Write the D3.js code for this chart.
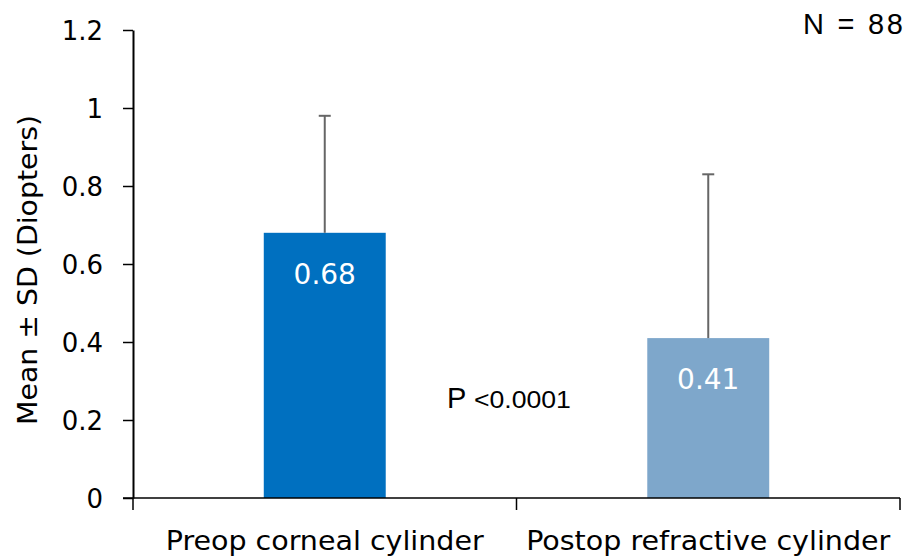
<!DOCTYPE html>
<html>
<head>
<meta charset="utf-8">
<script src="https://cdn.jsdelivr.net/npm/d3@7"></script>
<style>
  body { margin: 0; background: #fff; }
  svg { display: block; }
</style>
</head>
<body>
<div id="chart"></div>
<script>
// DATA
const categories = ["Preop corneal cylinder", "Postop refractive cylinder"]
const means = [0.68, 0.41]
const sds = [0.30, 0.42]
const barColors = ["#0070C0", "#7EA7CB"]
const yTicks = [0, 0.2, 0.4, 0.6, 0.8, 1, 1.2]

// DIMENSIONS
const dimensions = {
  width: 907,
  height: 558,
  margin: { top: 30, right: 7, bottom: 60, left: 133 },
}
dimensions.boundedWidth = dimensions.width - dimensions.margin.left - dimensions.margin.right
dimensions.boundedHeight = 498 - dimensions.margin.top

const svg = d3.select("#chart")
  .append("svg")
  .attr("width", dimensions.width)
  .attr("height", dimensions.height)

const bounds = svg.append("g")
  .attr("transform", `translate(${dimensions.margin.left},${dimensions.margin.top})`)

// SCALES
const xScale = d3.scaleBand()
  .domain(categories)
  .range([0, dimensions.boundedWidth])
  .padding(0)

const yScale = d3.scaleLinear()
  .domain([0, 1.2])
  .range([dimensions.boundedHeight, 0])

const barWidth = xScale.bandwidth() * 0.318

// BARS
bounds.append("g")
  .selectAll("rect")
  .data(categories)
  .join("rect")
    .attr("x", d => xScale(d) + (xScale.bandwidth() - barWidth) / 2)
    .attr("y", (d, i) => yScale(means[i]))
    .attr("width", barWidth)
    .attr("height", (d, i) => yScale(0) - yScale(means[i]))
    .attr("fill", (d, i) => barColors[i])

// ERROR BARS (upper only)
const errs = bounds.append("g")
  .selectAll("g")
  .data(categories)
  .join("g")
    .attr("stroke", "#666")
    .attr("stroke-width", 2)
errs.append("line")
  .attr("x1", d => xScale(d) + xScale.bandwidth() / 2)
  .attr("x2", d => xScale(d) + xScale.bandwidth() / 2)
  .attr("y1", (d, i) => yScale(means[i]))
  .attr("y2", (d, i) => yScale(means[i] + sds[i]))
errs.append("line")
  .attr("x1", d => xScale(d) + xScale.bandwidth() / 2 - 6)
  .attr("x2", d => xScale(d) + xScale.bandwidth() / 2 + 6)
  .attr("y1", (d, i) => yScale(means[i] + sds[i]))
  .attr("y2", (d, i) => yScale(means[i] + sds[i]))

// VALUE LABELS
bounds.append("g")
  .selectAll("text")
  .data(categories)
  .join("text")
    .attr("x", d => xScale(d) + xScale.bandwidth() / 2)
    .attr("y", (d, i) => yScale(means[i]) + 51)
    .attr("text-anchor", "middle")
    .attr("fill", "#fff")
    .style("font-family", "DejaVu Sans")
    .style("font-size", "28px")
    .text((d, i) => means[i])

// Y AXIS
const yAxis = bounds.append("g")
  .call(d3.axisLeft(yScale).tickValues(yTicks).tickFormat(d3.format("~g")).tickSize(10).tickSizeOuter(0).tickPadding(20))
yAxis.select(".domain").attr("stroke", "#000").attr("stroke-width", 2)
yAxis.selectAll(".tick line").attr("stroke", "#000").attr("stroke-width", 1.5)
yAxis.selectAll(".tick text")
  .attr("dy", "0.36em")
  .style("font-family", "DejaVu Sans")
  .style("font-size", "26px")
  .attr("fill", "#000")

// X AXIS
const xAxis = bounds.append("g")
  .attr("transform", `translate(0,${dimensions.boundedHeight})`)
xAxis.append("line")
  .attr("x1", -10)
  .attr("x2", dimensions.boundedWidth)
  .attr("stroke", "#000")
  .attr("stroke-width", 1.5)
const edges = [...categories.map(d => xScale(d)), xScale.range()[1]]
xAxis.selectAll(".xtick")
  .data(edges)
  .join("line")
    .attr("class", "xtick")
    .attr("x1", d => d)
    .attr("x2", d => d)
    .attr("y1", 0)
    .attr("y2", 12)
    .attr("stroke", "#000")
    .attr("stroke-width", 1.5)
const xLabels = xAxis.selectAll(".xlabel")
  .data(categories)
  .join("text")
    .attr("class", "xlabel")
    .attr("x", d => xScale(d) + xScale.bandwidth() / 2)
    .attr("y", 52)
    .attr("text-anchor", "middle")
    .style("font-family", "DejaVu Sans Condensed, DejaVu Sans")
    .style("font-size", "27px")
    .text(d => d)
// stretch labels horizontally by a common factor (first label ~318px wide)
const stretch = 318 / xLabels.node().getComputedTextLength()
xLabels.each(function () {
  d3.select(this)
    .attr("textLength", this.getComputedTextLength() * stretch)
    .attr("lengthAdjust", "spacingAndGlyphs")
})

// Y AXIS LABEL
svg.append("text")
  .attr("transform", `translate(37,270) rotate(-90)`)
  .attr("text-anchor", "middle")
  .attr("textLength", 310)
  .attr("lengthAdjust", "spacingAndGlyphs")
  .style("font-family", "DejaVu Sans")
  .style("font-size", "26px")
  .text("Mean ± SD (Diopters)")

// ANNOTATIONS
const pText = svg.append("text")
  .attr("x", 447)
  .attr("y", 408)
  .style("font-family", "Liberation Sans, Arial")
pText.append("tspan").style("font-size", "29px").text("P ")
pText.append("tspan")
  .style("font-size", "24px")
  .attr("textLength", 97)
  .attr("lengthAdjust", "spacingAndGlyphs")
  .text("<0.0001")

svg.append("text")
  .attr("x", 903)
  .attr("y", 34)
  .attr("text-anchor", "end")
  .attr("textLength", 100)
  .style("font-family", "Liberation Sans, Arial")
  .style("font-size", "29px")
  .text("N = 88")
</script>
</body>
</html>
